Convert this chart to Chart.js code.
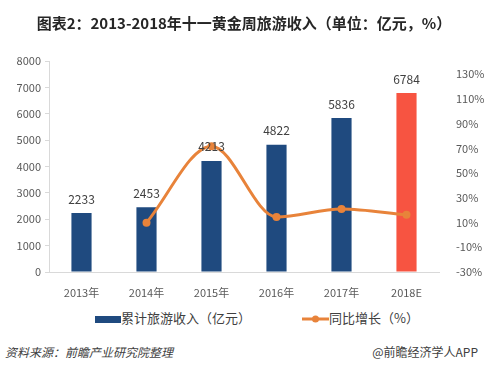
<!DOCTYPE html>
<html>
<head>
<meta charset="utf-8">
<script src="https://cdn.jsdelivr.net/npm/chart.js@4.4.1/dist/chart.umd.min.js"></script>
<style>
    body { margin: 0; background: #ffffff; font-family: "Noto Sans CJK SC", sans-serif; }
    #wrap { position: relative; width: 488px; height: 372px; overflow: hidden; }
    #title { position: absolute; left: 0; top: 12px; width: 488px; text-align: center; font-size: 15px; font-weight: bold; color: #262626; }
    #chartBox { position: absolute; left: 0; top: 0; width: 488px; height: 300px; }
    .legend { position: absolute; top: 309px; font-size: 13px; color: #404040; line-height: 18px; }
    .swatch { display: inline-block; vertical-align: middle; }
    #foot-left { position: absolute; left: 5px; top: 343px; font-size: 12px; font-style: italic; color: #404040; }
    #foot-right { position: absolute; right: 10px; top: 343px; font-size: 12px; color: #404040; }
</style>
</head>
<body>
<div id="wrap">
    <div id="chartBox"><canvas id="combo"></canvas></div>
    <div id="title">图表2：2013-2018年十一黄金周旅游收入（单位：亿元，%）</div>
    <div class="legend" style="left:95px;"><span class="swatch" style="width:26px;height:7px;background:#1f4a7f;"></span>累计旅游收入（亿元）</div>
    <div class="legend" style="left:302px;">
        <svg class="swatch" width="27" height="10"><line x1="0" y1="5" x2="27" y2="5" stroke="#e8833a" stroke-width="3"/><circle cx="13.5" cy="5" r="3.5" fill="#e8833a"/></svg>同比增长（%）
    </div>
    <div id="foot-left">资料来源：前瞻产业研究院整理</div>
    <div id="foot-right">@前瞻经济学人APP</div>
</div>
<script>
// Chart data
const years = ['2013年', '2014年', '2015年', '2016年', '2017年', '2018E'];
const revenue = [2233, 2453, 4213, 4822, 5836, 6784];
const growth = [null, 9.9, 71.7, 14.5, 21.0, 16.2];
const leftTicks = [0, 1000, 2000, 3000, 4000, 5000, 6000, 7000, 8000];
const rightTicks = [-30, -10, 10, 30, 50, 70, 90, 110, 130];

const barColors = ['#1f4a7f', '#1f4a7f', '#1f4a7f', '#1f4a7f', '#1f4a7f', '#f75441'];
const fontFamily = "'Noto Sans CJK SC', sans-serif";

// Value labels above the bars
const barLabels = {
    id: 'barLabels',
    afterDatasetsDraw(chart) {
        const ctx = chart.ctx;
        const meta = chart.getDatasetMeta(0);
        ctx.save();
        ctx.font = '12px ' + fontFamily;
        ctx.fillStyle = '#404040';
        ctx.textAlign = 'center';
        ctx.textBaseline = 'middle';
        meta.data.forEach((bar, i) => {
            ctx.fillText(String(revenue[i]), bar.x, bar.y - 14);
        });
        ctx.restore();
    }
};

new Chart(document.getElementById('combo'), {
    type: 'bar',
    data: {
        labels: years,
        datasets: [
            {
                type: 'bar',
                label: '累计旅游收入（亿元）',
                data: revenue,
                backgroundColor: barColors,
                categoryPercentage: 1,
                barPercentage: 0.31,
                yAxisID: 'y',
                order: 2
            },
            {
                type: 'line',
                label: '同比增长（%）',
                data: growth,
                borderColor: '#e8833a',
                backgroundColor: '#e8833a',
                borderWidth: 3,
                pointRadius: 4,
                pointBackgroundColor: '#e8833a',
                pointBorderWidth: 0,
                tension: 0.45,
                cubicInterpolationMode: 'monotone',
                yAxisID: 'y1',
                order: 1
            }
        ]
    },
    options: {
        responsive: true,
        maintainAspectRatio: false,
        animation: false,
        layout: { padding: { top: 61, right: 0, left: 0, bottom: 0 } },
        plugins: {
            legend: { display: false },
            tooltip: { enabled: false }
        },
        scales: {
            x: {
                grid: { display: false },
                border: { color: '#d9d9d9' },
                ticks: { color: '#595959', font: { family: fontFamily, size: 11 }, padding: 6 },
                afterFit(scale) { scale.height = 28; }
            },
            y: {
                position: 'left',
                min: 0,
                max: 8000,
                afterBuildTicks(scale) { scale.ticks = leftTicks.map(v => ({ value: v })); },
                grid: { drawOnChartArea: false, drawTicks: true, tickLength: 4, color: '#d9d9d9' },
                border: { color: '#d9d9d9' },
                ticks: {
                    color: '#595959',
                    font: { family: fontFamily, size: 11 },
                    padding: 4,
                    callback: v => String(v)
                },
                afterFit(scale) { scale.width = 49; }
            },
            y1: {
                position: 'right',
                min: -30,
                max: 140.6,
                afterBuildTicks(scale) { scale.ticks = rightTicks.map(v => ({ value: v })); },
                grid: { display: false },
                border: { display: false },
                ticks: {
                    color: '#595959',
                    font: { family: fontFamily, size: 11 },
                    padding: 9,
                    callback: v => v + '%'
                },
                afterFit(scale) { scale.width = 49; }
            }
        }
    },
    plugins: [barLabels]
});
</script>
</body>
</html>
